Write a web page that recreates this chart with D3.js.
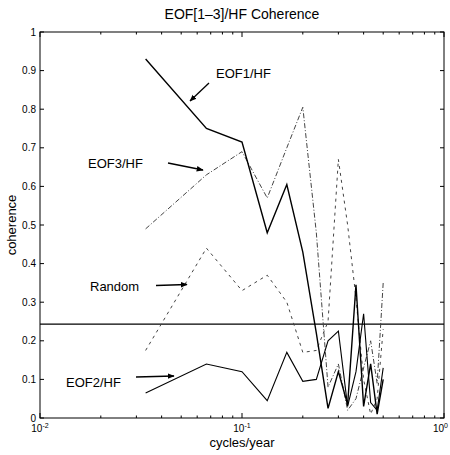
<!DOCTYPE html>
<html><head><meta charset="utf-8">
<script src="https://cdn.jsdelivr.net/npm/d3@7"></script>
<style>body{margin:0;background:#fff}svg{font-family:"Liberation Sans",Arial,sans-serif}</style>
</head><body><svg id="c" width="450" height="455"></svg>
<script>
const freqs = [1/30,2/30,3/30,4/30,5/30,6/30,7/30,8/30,9/30,10/30,11/30,12/30,13/30,14/30,15/30];
const eof1 = [0.93,0.75,0.715,0.48,0.605,0.43,0.22,0.025,0.12,0.035,0.345,0.03,0.14,0.01,0.10];
const eof2 = [0.065,0.14,0.12,0.045,0.17,0.095,0.10,0.20,0.225,0.03,0.12,0.27,0.04,0.02,0.13];
const eof3 = [0.49,0.63,0.69,0.57,0.70,0.805,0.48,0.08,0.14,0.02,0.05,0.13,0.20,0.09,0.35];
const rand = [0.175,0.44,0.33,0.37,0.30,0.17,0.175,0.25,0.67,0.50,0.31,0.10,0.01,0.05,0.23];
const sigLevel = 0.243;
const yTicks = [0,0.1,0.2,0.3,0.4,0.5,0.6,0.7,0.8,0.9,1];
const yTickLabels = ["0","0.1","0.2","0.3","0.4","0.5","0.6","0.7","0.8","0.9","1"];
const xMajor = [0.01,0.1,1];
const xMajorExp = ["-2","-1","0"];

const svg = d3.select("#c");
const L=40,R=444,T=32,B=418;
const x = d3.scaleLog().domain([0.01,1]).range([L,R]);
const y = d3.scaleLinear().domain([0,1]).range([B,T]);

// title & labels
svg.append("text").attr("x",242).attr("y",19).attr("text-anchor","middle").attr("font-size",14).text("EOF[1\u20133]/HF Coherence");
svg.append("text").attr("x",242).attr("y",447).attr("text-anchor","middle").attr("font-size",13).text("cycles/year");
svg.append("text").attr("transform","translate(16,225) rotate(-90)").attr("text-anchor","middle").attr("font-size",13).text("coherence");

// frame
svg.append("rect").attr("x",L).attr("y",T).attr("width",R-L).attr("height",B-T).attr("fill","none").attr("stroke","#000").attr("stroke-width",1);

// y ticks
const g = svg.append("g");
yTicks.forEach((v,i)=>{
  g.append("line").attr("x1",L).attr("x2",L+4).attr("y1",y(v)).attr("y2",y(v)).attr("stroke","#000");
  g.append("line").attr("x1",R-4).attr("x2",R).attr("y1",y(v)).attr("y2",y(v)).attr("stroke","#000");
  g.append("text").attr("x",36).attr("y",y(v)+3.5).attr("text-anchor","end").attr("font-size",10).text(yTickLabels[i]);
});
// x ticks
const minor=[];
[0.01,0.1].forEach(d=>{for(let m=2;m<=9;m++)minor.push(d*m);});
minor.forEach(v=>{
  g.append("line").attr("x1",x(v)).attr("x2",x(v)).attr("y1",B).attr("y2",B-2.5).attr("stroke","#000");
  g.append("line").attr("x1",x(v)).attr("x2",x(v)).attr("y1",T).attr("y2",T+2.5).attr("stroke","#000");
});
xMajor.forEach((v,i)=>{
  g.append("line").attr("x1",x(v)).attr("x2",x(v)).attr("y1",B).attr("y2",B-5).attr("stroke","#000");
  g.append("line").attr("x1",x(v)).attr("x2",x(v)).attr("y1",T).attr("y2",T+5).attr("stroke","#000");
  const last = i===xMajor.length-1;
  const t=g.append("text").attr("x",last?448:x(v)).attr("y",432).attr("text-anchor",last?"end":"middle").attr("font-size",10);
  t.append("tspan").text("10");
  t.append("tspan").attr("dy",-4).attr("font-size",7).text(xMajorExp[i]);
});

// significance line
svg.append("line").attr("x1",L).attr("x2",R).attr("y1",y(sigLevel)).attr("y2",y(sigLevel)).attr("stroke","#000").attr("stroke-width",1.3);

const line = d3.line().x((d,i)=>x(freqs[i])).y(d=>y(d));
const series=[
  {d:rand,dash:"3,4",w:1,c:"#444"},
  {d:eof3,dash:"5,2,1,2",w:1,c:"#444"},
  {d:eof2,dash:null,w:1.1,c:"#000"},
  {d:eof1,dash:null,w:1.4,c:"#000"}
];
series.forEach(s=>{
  svg.append("path").attr("d",line(s.d)).attr("fill","none").attr("stroke",s.c).attr("stroke-width",s.w).attr("stroke-dasharray",s.dash);
});

// annotations
svg.append("defs").append("marker").attr("id","ah").attr("viewBox","0 0 10 10").attr("refX",9).attr("refY",5)
  .attr("markerWidth",7).attr("markerHeight",7).attr("orient","auto").attr("markerUnits","userSpaceOnUse")
  .append("path").attr("d","M0,1 L10,5 L0,9 Z").attr("fill","#000");
const notes=[
  {t:"EOF1/HF",tx:216,ty:78,x1:209,y1:83,x2:190,y2:101},
  {t:"EOF3/HF",tx:88,ty:168,x1:168,y1:163,x2:203,y2:170},
  {t:"Random",tx:90,ty:291,x1:156,y1:285.5,x2:187,y2:284.5},
  {t:"EOF2/HF",tx:66,ty:387,x1:136,y1:377,x2:174,y2:376}
];
notes.forEach(n=>{
  svg.append("text").attr("x",n.tx).attr("y",n.ty).attr("font-size",13).text(n.t);
  svg.append("line").attr("x1",n.x1).attr("y1",n.y1).attr("x2",n.x2).attr("y2",n.y2).attr("stroke","#000").attr("stroke-width",1.3).attr("marker-end","url(#ah)");
});
</script></body></html>
